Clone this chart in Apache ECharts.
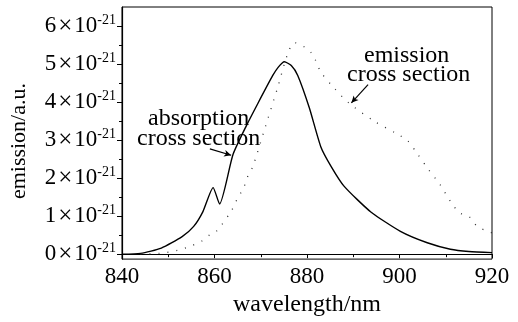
<!DOCTYPE html>
<html>
<head>
<meta charset="utf-8">
<script src="https://cdn.jsdelivr.net/npm/echarts@6/dist/echarts.min.js"></script>
<style>
  html, body { margin: 0; padding: 0; background: #fff; }
  #chart { width: 518px; height: 322px; }
</style>
</head>
<body>
<div id="chart"></div>
<script>
// absorption cross section (solid line), values in units of 1e-21
const absWl  = [840, 844, 848.5, 853, 855.5, 857.5, 859.7, 861.1, 864, 866.9, 869.4, 872.6, 873.8, 875.1, 876.6, 878, 880.5, 883, 885.2, 888, 893.8, 900.2, 906, 911, 915, 920];
const absVal = [0, 0.02, 0.16, 0.46, 0.73, 1.12, 1.75, 1.32, 2.62, 3.38, 3.97, 4.70, 4.92, 5.06, 4.96, 4.70, 3.85, 2.82, 2.31, 1.79, 1.11, 0.60, 0.30, 0.13, 0.07, 0.04];

// emission cross section (dotted line)
const emWl  = [844, 848, 852, 855, 857.2, 859, 860.4, 863.7, 865.1, 866.2, 867.2, 868.3, 871, 873.7, 875.8, 877.3, 880.9, 883, 886, 889.1, 894.5, 899.5, 901.7, 903.8, 906.3, 908.7, 911.1, 913, 915.1, 916.8, 918.7, 920];
const emVal = [0, 0.02, 0.10, 0.22, 0.34, 0.51, 0.60, 1.15, 1.50, 1.71, 2.05, 2.31, 3.35, 4.40, 5.26, 5.56, 5.30, 4.79, 4.35, 3.97, 3.50, 3.16, 2.99, 2.65, 2.22, 1.84, 1.37, 1.09, 0.98, 0.73, 0.62, 0.56];

const yTicks = [0, 1, 2, 3, 4, 5, 6];
const yMinor = [0.5, 1.5, 2.5, 3.5, 4.5, 5.5];

const font = 'Liberation Serif';
const chart = echarts.init(document.getElementById('chart'), null, { renderer: 'canvas' });

const zip = (xs, ys) => xs.map((x, i) => [x, ys[i]]);

const option = {
  animation: false,
  textStyle: { fontFamily: font, color: '#000' },
  grid: {
    left: 120, right: 26, top: 7, bottom: 57,
    show: true, borderColor: '#000', borderWidth: 1
  },
  xAxis: {
    type: 'value', min: 840, max: 920, interval: 20,
    name: 'wavelength/nm', nameLocation: 'middle', nameGap: 30,
    nameTextStyle: { fontFamily: font, fontSize: 24, color: '#000' },
    axisLine: { lineStyle: { color: '#000', width: 1.2 } },
    axisTick: { length: 4, lineStyle: { color: '#000' } },
    minorTick: { show: true, splitNumber: 2, length: 3, lineStyle: { color: '#000' } },
    axisLabel: { fontFamily: font, fontSize: 23, color: '#000', margin: 6 },
    splitLine: { show: false }
  },
  yAxis: [{
    type: 'value', min: -0.13, max: 6.5,
    name: 'emission/a.u.', nameLocation: 'middle', nameGap: 92,
    nameTextStyle: { fontFamily: font, fontSize: 22, color: '#000', padding: [0, 16, 0, 0] },
    axisLine: { lineStyle: { color: '#000', width: 1.2 } },
    axisTick: { length: 5, customValues: yTicks, lineStyle: { color: '#000' } },
    axisLabel: {
      customValues: yTicks, margin: 6,
      formatter: v => '{n|' + v + '}{x|\u00d7}{n|10}{s|-21}',
      rich: {
        n: { fontFamily: font, fontSize: 23, color: '#000' },
        x: { fontFamily: font, fontSize: 25, color: '#000', padding: [0, 2, 0, 2] },
        s: { fontFamily: font, fontSize: 14, color: '#000', verticalAlign: 'top', lineHeight: 22 }
      }
    },
    splitLine: { show: false }
  }, {
    type: 'value', min: -0.13, max: 6.5, position: 'left',
    axisLine: { show: false },
    axisTick: { show: true, length: 3, customValues: yMinor, lineStyle: { color: '#000' } },
    axisLabel: { show: false },
    splitLine: { show: false }
  }],
  series: [{
    name: 'absorption', type: 'line', data: zip(absWl, absVal),
    showSymbol: false, smooth: 0.2,
    lineStyle: { color: '#000', width: 1.4 },
    markLine: {
      silent: true, symbol: ['none', 'arrow'], symbolSize: [5, 7],
      lineStyle: { color: '#000', width: 1.2, type: 'solid' },
      label: { show: false },
      data: [
        [{ coord: [859.0, 2.77] }, { coord: [863.6, 2.60] }],
        [{ coord: [893.2, 4.46] }, { coord: [889.6, 3.98] }]
      ]
    }
  }, {
    name: 'emission', type: 'line', data: zip(emWl, emVal),
    showSymbol: false, smooth: 0.3,
    lineStyle: { color: '#333', width: 1.3, type: [1, 8] }
  }],
  graphic: [
    { type: 'text', left: 148, top: 107, style: { text: 'absorption', font: '24px "Liberation Serif"', fill: '#000' } },
    { type: 'text', left: 137, top: 127, style: { text: 'cross section', font: '24px "Liberation Serif"', fill: '#000' } },
    { type: 'text', left: 364, top: 44, style: { text: 'emission', font: '24px "Liberation Serif"', fill: '#000' } },
    { type: 'text', left: 347, top: 63, style: { text: 'cross section', font: '24px "Liberation Serif"', fill: '#000' } }
  ]
};

chart.setOption(option);
</script>
</body>
</html>
